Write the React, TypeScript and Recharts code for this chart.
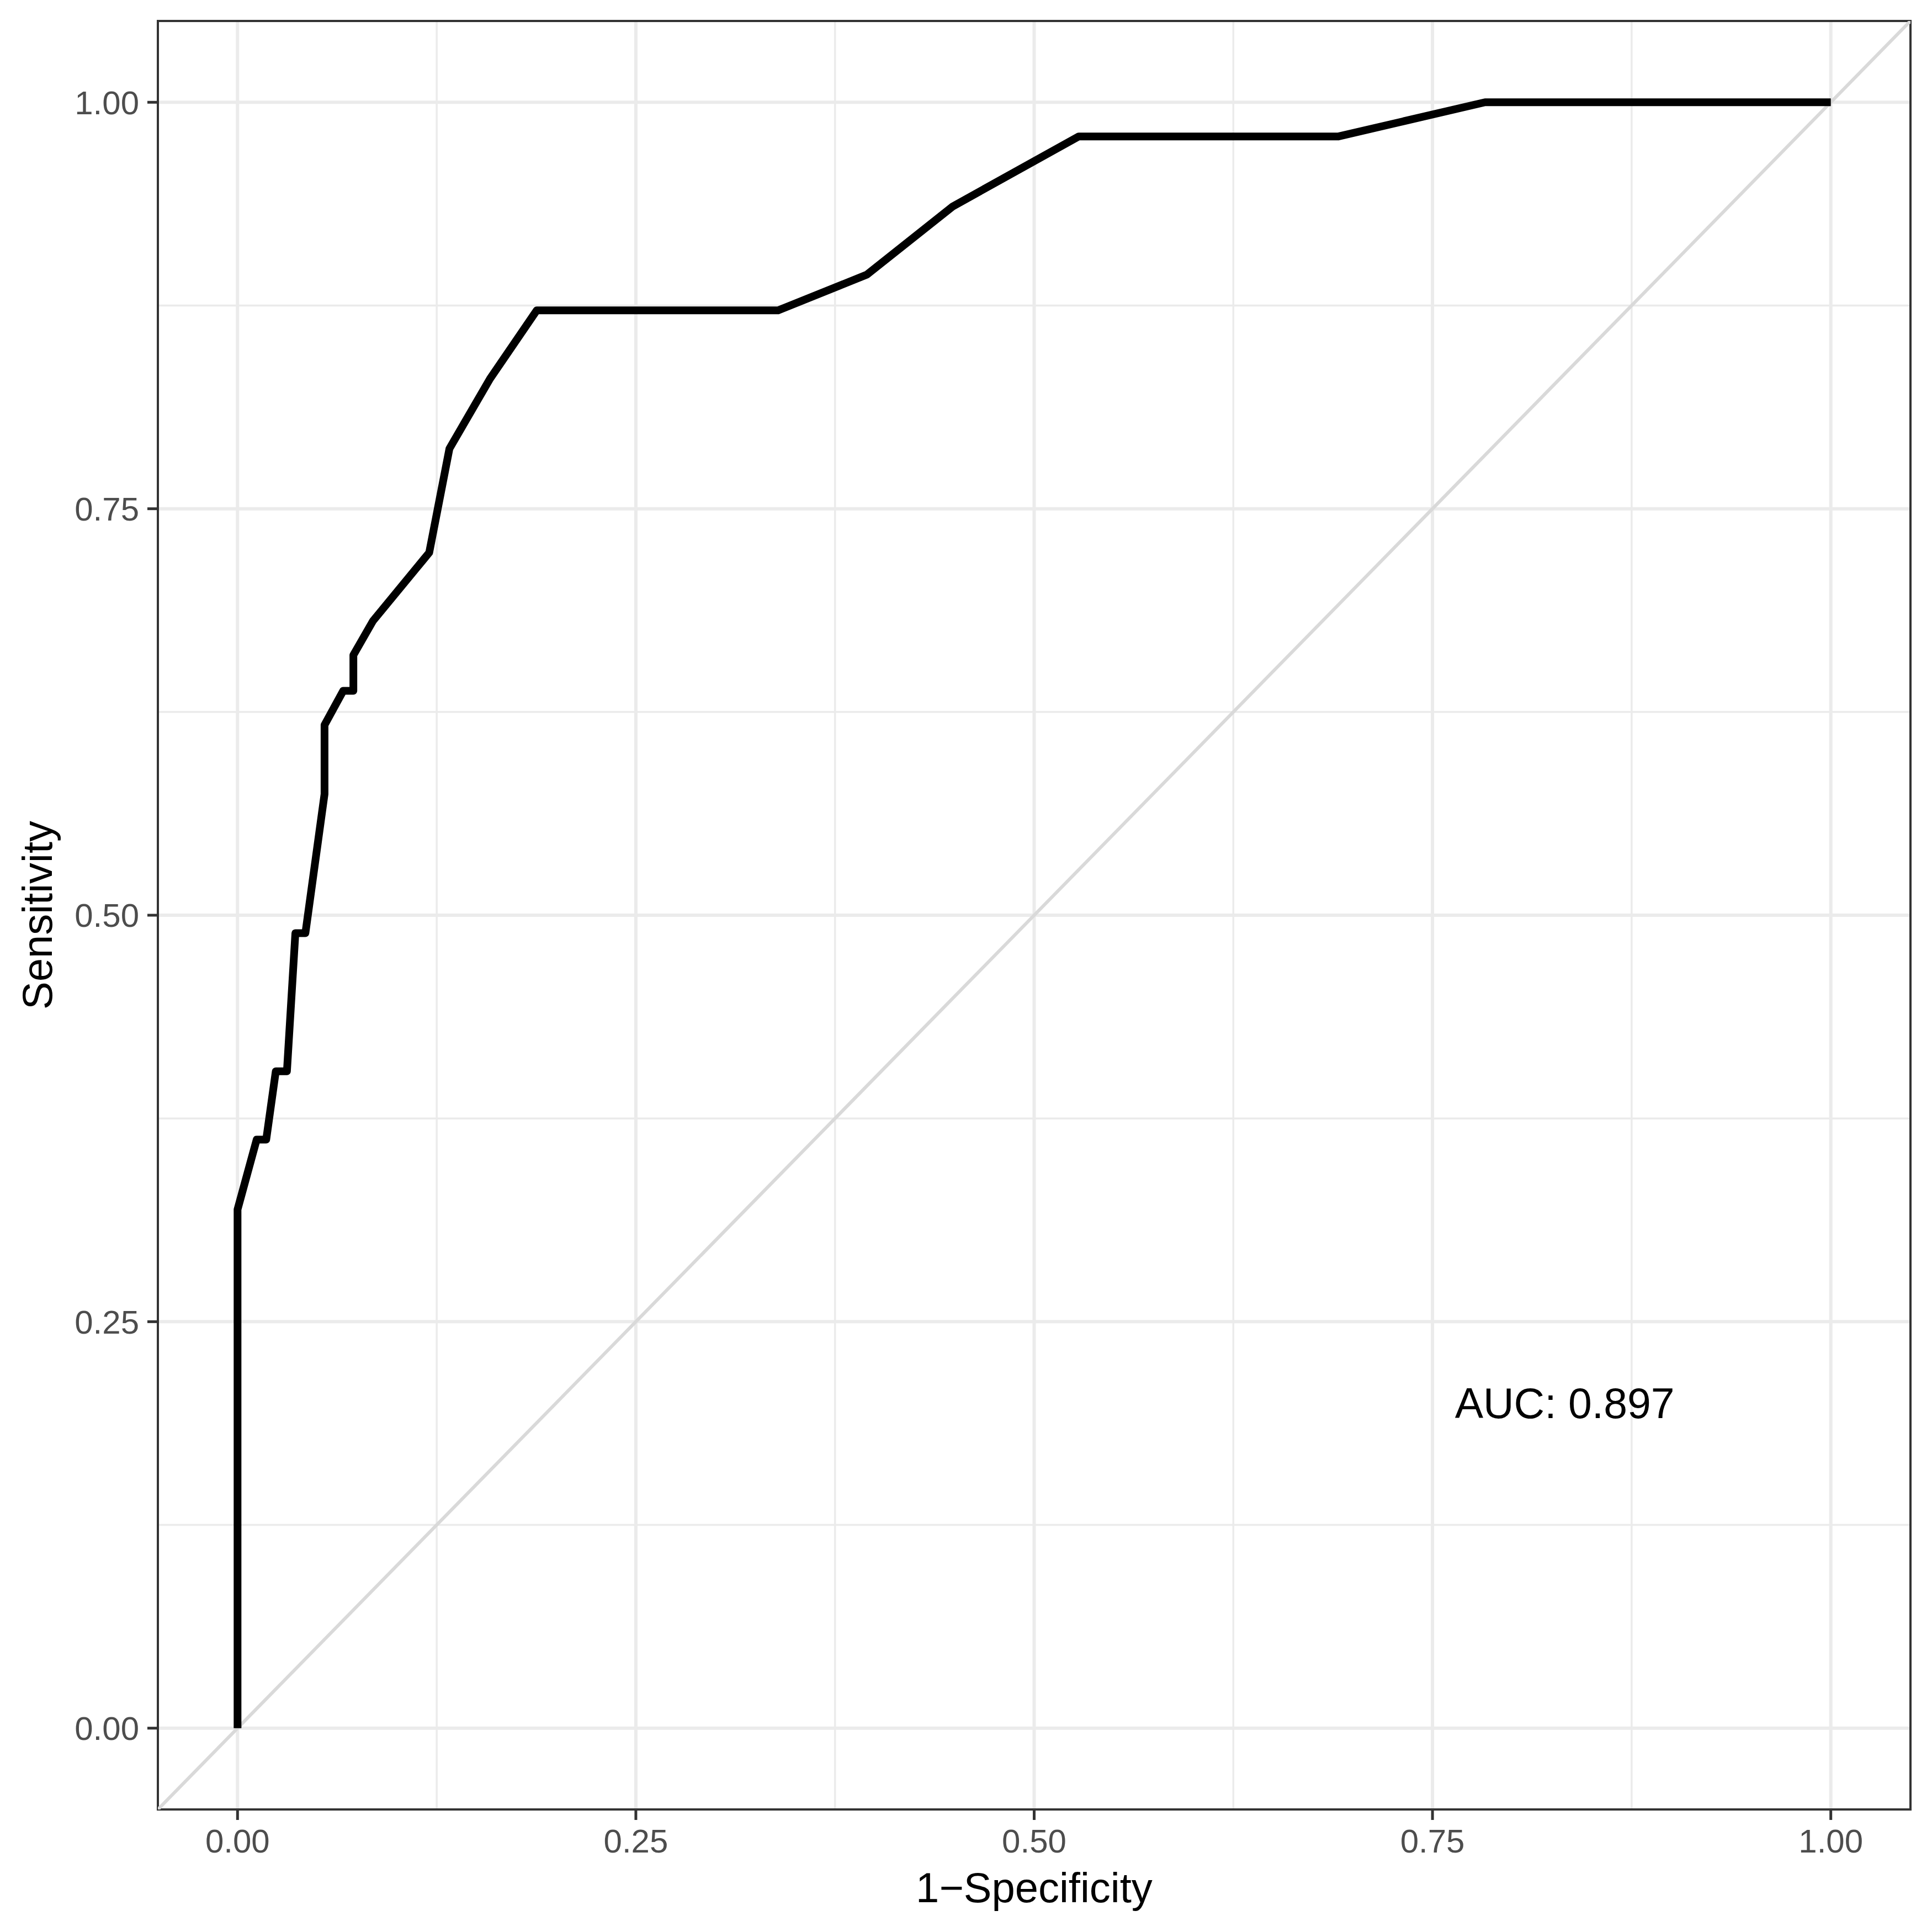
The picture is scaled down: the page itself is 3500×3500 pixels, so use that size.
import React from 'react';
import {
  LineChart,
  Line,
  XAxis,
  YAxis,
  CartesianGrid,
  ReferenceLine,
  ReferenceArea,
  ReferenceDot,
} from 'recharts';

// ROC curve
const fpr = [
  0, 0, 0.012, 0.018, 0.024, 0.031, 0.0363, 0.0426, 0.0546, 0.0546, 0.0663, 0.0727,
  0.0727, 0.085, 0.1203, 0.133, 0.1585, 0.1878, 0.3393, 0.395, 0.449, 0.528, 0.691,
  0.783, 1,
];
const tpr = [
  0, 0.319, 0.362, 0.362, 0.404, 0.404, 0.489, 0.489, 0.5745, 0.617, 0.638, 0.638,
  0.66, 0.681, 0.723, 0.787, 0.83, 0.872, 0.872, 0.894, 0.936, 0.979, 0.979, 1, 1,
];

const majorBreaks = [0, 0.25, 0.5, 0.75, 1];
const minorBreaks = [0.125, 0.375, 0.625, 0.875];
const axisDomain = [-0.05, 1.05];
const aucLabel = 'AUC: 0.897';
const aucAt = { x: 0.833, y: 0.2 };

const FONT = '"Liberation Sans", Arial, Helvetica, sans-serif';

const rocData = fpr.map((x, i) => ({ fpr: x, tpr: tpr[i] }));

const YTitle = (props: any) => {
  const vb = props.viewBox || {};
  const cy = vb.height ? vb.y + vb.height / 2 : 1658;
  const x = 94;
  return (
    <text
      x={x}
      y={cy}
      transform={`rotate(-90 ${x} ${cy})`}
      textAnchor="middle"
      fill="#000000"
      fontSize={76}
      fontFamily={FONT}
    >
      Sensitivity
    </text>
  );
};

const App: React.FC = () => {
  return (
    <div style={{ position: 'absolute', left: 0, top: 0, width: 3500, height: 3500, background: '#ffffff' }}>
      <LineChart
        width={3500}
        height={3500}
        data={rocData}
        margin={{ top: 38, right: 39, bottom: 0, left: 0 }}
      >
        {/* minor + major grid, ggplot style */}
        <CartesianGrid
          stroke="#EBEBEB"
          strokeWidth={3.5}
          horizontalValues={minorBreaks}
          verticalValues={minorBreaks}
          fill="none"
        />
        <CartesianGrid
          stroke="#EBEBEB"
          strokeWidth={6}
          horizontalValues={majorBreaks}
          verticalValues={majorBreaks}
          fill="none"
        />
        <XAxis
          dataKey="fpr"
          type="number"
          domain={axisDomain}
          ticks={majorBreaks}
          interval={0}
          allowDataOverflow
          height={222}
          axisLine={false}
          tickSize={19}
          tickMargin={16}
          tickLine={{ stroke: '#333333', strokeWidth: 5 }}
          tick={{ fill: '#4D4D4D', fontSize: 60, fontFamily: FONT }}
          tickFormatter={(v: number) => v.toFixed(2)}
          label={{
            value: '1\u2212Specificity',
            position: 'insideBottom',
            offset: 54,
            fill: '#000000',
            fontSize: 76,
            fontFamily: FONT,
          }}
        />
        <YAxis
          type="number"
          domain={axisDomain}
          ticks={majorBreaks}
          interval={0}
          allowDataOverflow
          width={286}
          axisLine={false}
          tickSize={19}
          tickMargin={15}
          tickLine={{ stroke: '#333333', strokeWidth: 5 }}
          tick={{ fill: '#4D4D4D', fontSize: 60, fontFamily: FONT }}
          tickFormatter={(v: number) => v.toFixed(2)}
          label={{ content: YTitle }}
        />
        <ReferenceLine
          segment={[
            { x: axisDomain[0], y: axisDomain[0] },
            { x: axisDomain[1], y: axisDomain[1] },
          ]}
          stroke="#D9D9D9"
          strokeWidth={6}
          ifOverflow="hidden"
        />
        <Line
          dataKey="tpr"
          type="linear"
          stroke="#000000"
          strokeWidth={14}
          strokeLinejoin="round"
          dot={false}
          activeDot={false}
          isAnimationActive={false}
        />
        <ReferenceArea
          x1={axisDomain[0]}
          x2={axisDomain[1]}
          y1={axisDomain[0]}
          y2={axisDomain[1]}
          fill="none"
          fillOpacity={0}
          stroke="#333333"
          strokeWidth={4}
        />
        <ReferenceDot
          x={aucAt.x}
          y={aucAt.y}
          r={0}
          fill="none"
          stroke="none"
          label={{
            value: aucLabel,
            position: 'center',
            fill: '#000000',
            fontSize: 77,
            fontFamily: FONT,
          }}
        />
      </LineChart>
    </div>
  );
};

export default App;
